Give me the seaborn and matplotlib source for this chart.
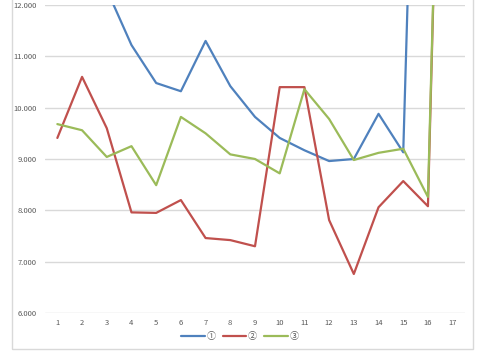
import numpy as np
import pandas as pd
import matplotlib
matplotlib.use('Agg')
import matplotlib.pyplot as plt
import seaborn as sns
from matplotlib.patches import Rectangle

sns.set_style('white')
plt.rcParams['font.family'] = ['Noto Sans CJK JP', 'DejaVu Sans']

# data (values above 12 are clipped in the reference)
x_cats = list(range(1, 18))
s1 = [14.5, 13.4, 12.3, 11.22, 10.48, 10.32, 11.3, 10.42, 9.82, 9.41, 9.17,
      8.96, 9.0, 9.88, 9.13, 25.8, 26.0]
s2 = [9.41, 10.6, 9.6, 7.96, 7.95, 8.2, 7.46, 7.42, 7.3, 10.4, 10.4,
      7.81, 6.76, 8.06, 8.57, 8.08, 26.6]
s3 = [9.68, 9.56, 9.04, 9.25, 8.49, 9.82, 9.5, 9.09, 9.0, 8.72, 10.36,
      9.78, 8.98, 9.12, 9.2, 8.26, 26.5]
names = ['①', '②', '③']
colors = ['#4F81BD', '#C0504D', '#9BBB59']
y_ticks = [6, 7, 8, 9, 10, 11, 12]

df = pd.DataFrame({'x': x_cats * 3, 'y': s1 + s2 + s3,
                   'series': [names[0]] * 17 + [names[1]] * 17 + [names[2]] * 17})

fig = plt.figure(figsize=(4.8, 3.51), dpi=100)
ax = fig.add_axes([45 / 480, 1 - 313 / 351, 420 / 480, 308 / 351])

sns.lineplot(data=df, x='x', y='y', hue='series', palette=colors, lw=1.6,
             ax=ax, legend=True)

ax.set_xlim(0.5, 17.5)
ax.set_ylim(6, 12)
ax.set_xticks(x_cats)
ax.set_yticks(y_ticks)
ax.set_yticklabels([f'{v:.3f}' for v in y_ticks])
ax.tick_params(axis='both', labelsize=5.5, colors='#595959', length=0)
ax.tick_params(axis='x', pad=4)
ax.tick_params(axis='y', pad=6)
ax.set_xlabel('')
ax.set_ylabel('')
ax.grid(True, axis='y', color='#D9D9D9', lw=1)
ax.set_axisbelow(True)
for sp in ax.spines.values():
    sp.set_visible(False)

leg = ax.legend(loc='center', bbox_to_anchor=(240 / 480, 14 / 351),
                bbox_transform=fig.transFigure, ncol=3, frameon=False,
                fontsize=6.5, handlelength=2.6, columnspacing=0.8,
                handletextpad=0.2)
for t in leg.get_texts():
    t.set_color('#595959')

# chart outer border
fig.patches.append(Rectangle((12 / 480, 2 / 351), 461 / 480, 1.1,
                             transform=fig.transFigure, fill=False,
                             ec='#D9D9D9', lw=1, clip_on=False))

plt.savefig('out.png', dpi=100)
plt.close(fig)
